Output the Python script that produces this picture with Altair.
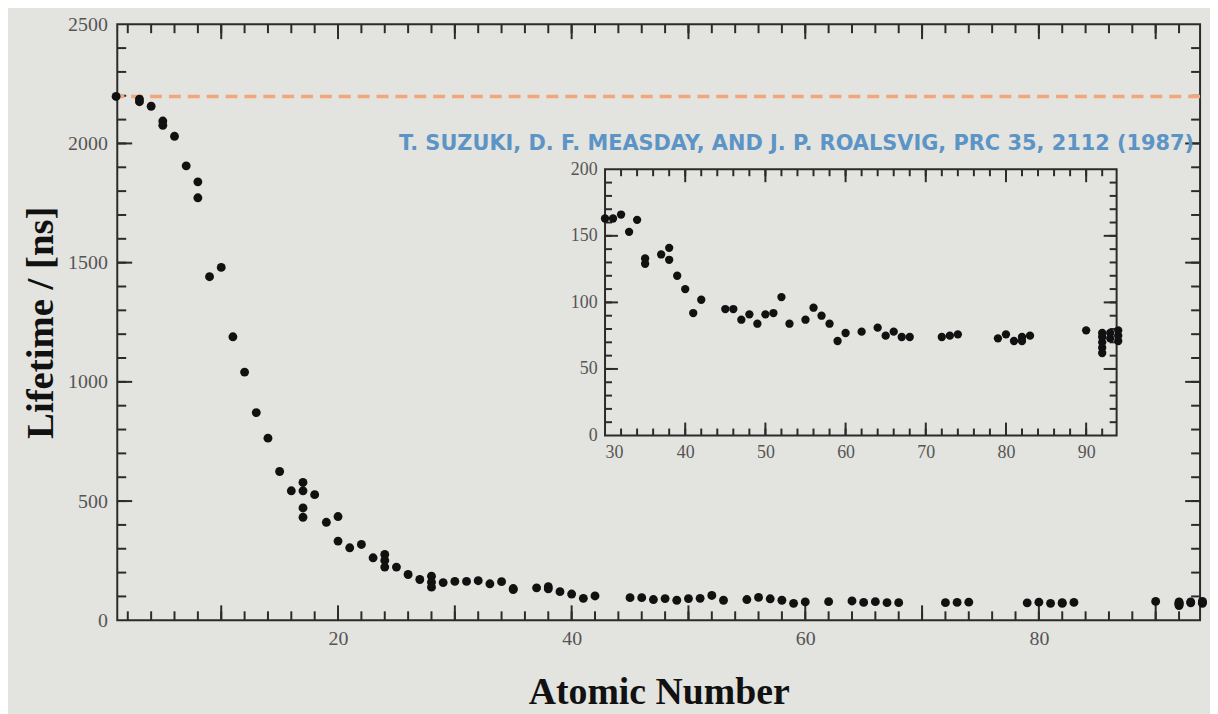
import altair as alt
import pandas as pd

# ---------------- data ----------------
Z = [1, 3, 3, 4, 5, 5, 6, 7, 8, 8, 9, 10, 11, 12, 13, 14, 15, 16,
     17, 17, 17, 17, 18, 19, 20, 20, 21, 22, 23, 24, 24, 24, 25, 26, 27,
     28, 28, 28, 29, 30, 31, 32, 33, 34, 35, 35, 37, 38, 38, 39, 40, 41, 42,
     45, 46, 47, 48, 49, 50, 51, 52, 53, 55, 56, 57, 58, 59, 60, 62, 64,
     65, 66, 67, 68, 72, 73, 74, 79, 80, 81, 82, 82, 83, 90,
     92, 92, 92, 92, 92, 93, 93, 94, 94, 94]
tau = [2197, 2186, 2175, 2156, 2094, 2076, 2030, 1906, 1839, 1772, 1441, 1480,
       1189, 1041, 871, 764, 624, 543,
       578, 543, 471, 432, 527, 411, 435, 332, 304, 318, 262, 276, 251, 223,
       223, 192, 171, 185, 160, 139, 158, 163, 163, 166, 153, 162, 133, 129,
       136, 141, 132, 120, 110, 92, 102,
       95, 95, 87, 91, 84, 91, 92, 104, 84, 87, 96, 90, 84, 71, 77, 78, 81,
       75, 78, 74, 74, 74, 75, 76, 73, 76, 71, 71, 74, 75, 79,
       62, 66, 70, 74, 77, 73, 77, 71, 75, 79]

inset_min_z = 30
free_muon_lifetime = 2197

main_x_domain = [1.1, 93.8]
main_y_domain = [0, 2500]
inset_x_domain = [30, 93.8]
inset_y_domain = [0, 200]

main_x_labels = [20, 40, 60, 80]
main_y_labels = [0, 500, 1000, 1500, 2000, 2500]
inset_x_labels = [30, 40, 50, 60, 70, 80, 90]
inset_y_labels = [0, 50, 100, 150, 200]

main_x_minor = list(range(2, 94, 2))
main_x_major = list(range(10, 91, 10))
main_y_minor = list(range(100, 2500, 100))
main_y_major = [500, 1000, 1500, 2000]
inset_x_minor = list(range(32, 94, 2))
inset_x_major = list(range(40, 91, 10))
inset_y_minor = list(range(10, 200, 10))
inset_y_major = [50, 100, 150]

citation = "T. SUZUKI, D. F. MEASDAY, AND J. P. ROALSVIG, PRC  35, 2112 (1987)"
x_title = "Atomic Number"
y_title = "Lifetime / [ns]"

# ---------------- layout / style ----------------
W, H = 1090, 600
IX0, IX1 = 491, 1006      # inset plot area, x pixels in main plot coords
IY0, IY1 = 414, 146       # inset plot area, y pixels (bottom, top)
INK = "#2b2b2b"
BG = "#e3e3df"
SERIF = "Liberation Serif"
LABEL = "#555555"

df = pd.DataFrame({"Z": Z, "tau": tau})
df_in = df[df["Z"] >= inset_min_z]

xs_main = alt.Scale(domain=main_x_domain, nice=False, zero=False)
ys_main = alt.Scale(domain=main_y_domain, nice=False, zero=False)
xs_in = alt.Scale(domain=inset_x_domain, range=[IX0, IX1], nice=False, zero=False)
ys_in = alt.Scale(domain=inset_y_domain, range=[IY0, IY1], nice=False, zero=False)


def xticks(vals, scale, ybot, ytop, length):
    d = pd.DataFrame({"v": vals})
    base = alt.Chart(d).mark_rule(color=INK, strokeWidth=2)
    xe = alt.X("v:Q", scale=scale, axis=None)
    return [
        base.encode(x=xe, y=alt.value(ybot), y2=alt.value(ybot - length)),
        base.encode(x=xe, y=alt.value(ytop), y2=alt.value(ytop + length)),
    ]


def yticks(vals, scale, xleft, xright, length):
    d = pd.DataFrame({"v": vals})
    base = alt.Chart(d).mark_rule(color=INK, strokeWidth=2)
    ye = alt.Y("v:Q", scale=scale, axis=None)
    return [
        base.encode(y=ye, x=alt.value(xleft), x2=alt.value(xleft + length)),
        base.encode(y=ye, x=alt.value(xright), x2=alt.value(xright - length)),
    ]


# ---------------- main panel ----------------
dash = alt.Chart(pd.DataFrame({"y": [free_muon_lifetime]})).mark_rule(
    color="#f2a77b", strokeDash=[12, 7], strokeWidth=3.5
).encode(y=alt.Y("y:Q", scale=ys_main, axis=None))

main_pts = alt.Chart(df).mark_circle(size=80, color="#111111", opacity=1).encode(
    x=alt.X("Z:Q", scale=xs_main, axis=alt.Axis(
        orient="bottom", values=main_x_labels, format="d", ticks=False, tickSize=0,
        domain=False, grid=False, labelFont=SERIF, labelFontSize=20, labelColor=LABEL,
        labelPadding=8, title=x_title, titleFont=SERIF, titleFontSize=38,
        titleFontWeight="bold", titleColor="#111111", titleBaseline="alphabetic",
        titleY=84)),
    y=alt.Y("tau:Q", scale=ys_main, axis=alt.Axis(
        orient="left", values=main_y_labels, format="d", ticks=False, tickSize=0,
        domain=False, grid=False, labelFont=SERIF, labelFontSize=20, labelColor=LABEL,
        labelPadding=10, title=y_title, titleFont=SERIF, titleFontSize=39,
        titleFontWeight="bold", titleColor="#111111", titleBaseline="alphabetic",
        titleAngle=270, titleX=-65, titleY=H / 2)),
)

note = alt.Chart(pd.DataFrame({"t": [citation]})).mark_text(
    align="right", baseline="alphabetic", font="DejaVu Sans",
    fontSize=21, fontWeight="bold", color="#5b94c5"
).encode(text="t:N", x=alt.value(W - 6), y=alt.value(127))

main_ticks = (xticks(main_x_minor, xs_main, H, 0, 9) + xticks(main_x_major, xs_main, H, 0, 15)
              + yticks(main_y_minor, ys_main, 0, W, 9) + yticks(main_y_major, ys_main, 0, W, 15))

# ---------------- inset panel ----------------
frame = alt.Chart(pd.DataFrame({"a": [0]})).mark_rect(
    fillOpacity=0, stroke=INK, strokeWidth=2
).encode(
    x=alt.X(datum=inset_x_domain[0], scale=xs_in, axis=None),
    x2=alt.X2(datum=inset_x_domain[1]),
    y=alt.Y(datum=inset_y_domain[0], scale=ys_in, axis=None),
    y2=alt.Y2(datum=inset_y_domain[1]),
)

inset_pts = alt.Chart(df_in).mark_circle(size=70, color="#111111", opacity=1).encode(
    x=alt.X("Z:Q", scale=xs_in, axis=alt.Axis(
        orient="bottom", offset=-(H - IY0), values=inset_x_labels, format="d",
        ticks=False, tickSize=0, domain=False, grid=False, labelFont=SERIF,
        labelFontSize=18, labelColor=LABEL, labelPadding=8, title=None)),
    y=alt.Y("tau:Q", scale=ys_in, axis=alt.Axis(
        orient="left", offset=-IX0, values=inset_y_labels, format="d",
        ticks=False, tickSize=0, domain=False, grid=False, labelFont=SERIF,
        labelFontSize=18, labelColor=LABEL, labelPadding=8, title=None)),
)

inset_ticks = (xticks(inset_x_minor, xs_in, IY0, IY1, 7) + xticks(inset_x_major, xs_in, IY0, IY1, 13)
               + yticks(inset_y_minor, ys_in, IX0, IX1, 7) + yticks(inset_y_major, ys_in, IX0, IX1, 13))

chart = alt.layer(
    *main_ticks, dash, main_pts, note, *inset_ticks, frame, inset_pts
).resolve_scale(
    x="independent", y="independent"
).properties(
    width=W, height=H, background=BG,
    autosize=alt.AutoSizeParams(type="none"),
    padding={"left": 110, "top": 14, "right": 10, "bottom": 92},
).configure_view(stroke=INK, strokeWidth=2)

chart.save("out.html", embed_options={"renderer": "svg", "actions": False})
